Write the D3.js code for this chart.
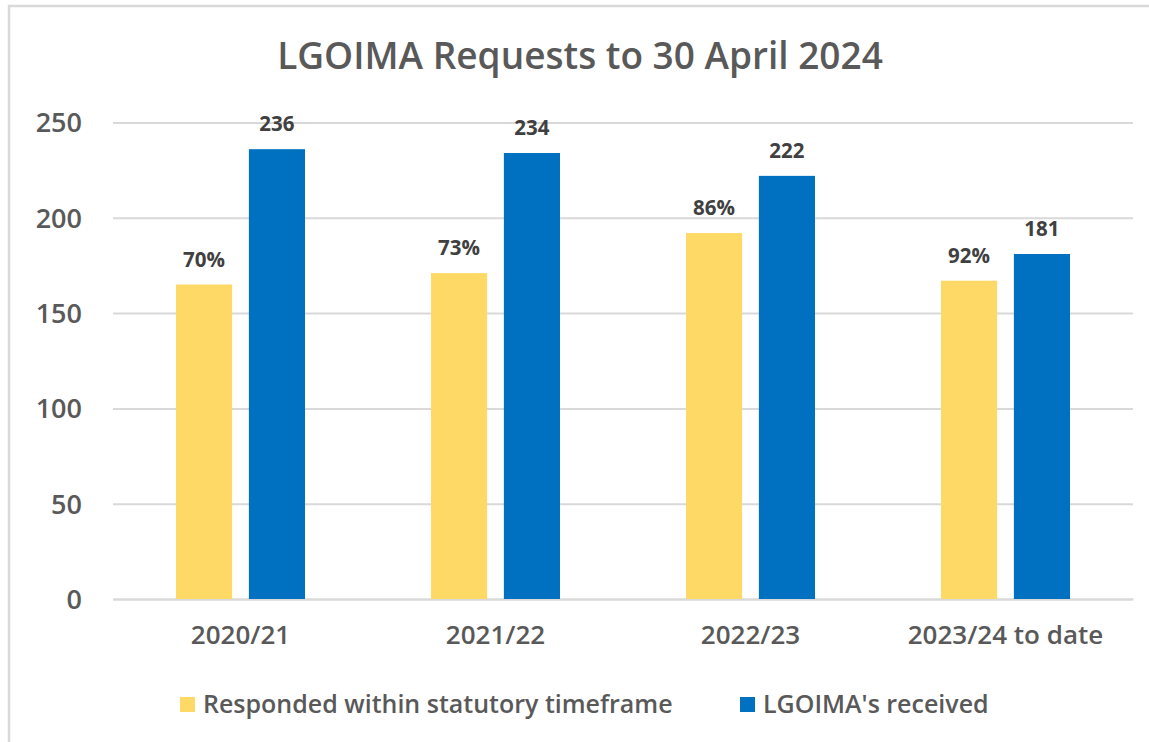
<!DOCTYPE html>
<html><head><meta charset="utf-8">
<script src="https://cdn.jsdelivr.net/npm/d3@7"></script>
<style>body{margin:0;background:#fff;}svg{display:block;font-family:"Open Sans",sans-serif;}</style>
</head><body>
<svg id="c" width="1149" height="742"></svg>
<script>
const categories = ["2020/21", "2021/22", "2022/23", "2023/24 to date"];
const responded = [165, 171, 192, 167];
const respondedLabels = ["70%", "73%", "86%", "92%"];
const received = [236, 234, 222, 181];
const receivedLabels = ["236", "234", "222", "181"];
const seriesNames = ["Responded within statutory timeframe", "LGOIMA's received"];
const yTicks = [0, 50, 100, 150, 200, 250];
const title = "LGOIMA Requests to 30 April 2024";

const svg = d3.select("#c");
const colors = ["#FFD966", "#0070C0"];

// chart border
svg.append("path").attr("d", "M9,760 L9,6 L1160,6").attr("fill", "none").attr("stroke", "#d9d9d9").attr("stroke-width", 2.5);

const m = {l: 113, r: 1133, t: 122.5, b: 599};
const x = d3.scaleBand().domain(categories).range([m.l, m.r]);
const y = d3.scaleLinear().domain([0, 250]).range([m.b, m.t]);
const x1 = d3.scaleBand().domain([0, 1]).range([0, 129]).paddingInner(0.23);

svg.append("text").attr("x", 580).attr("y", 69).attr("text-anchor", "middle")
  .attr("font-size", 37).attr("font-weight", 600).attr("fill", "#595959").text(title);

const yAxis = d3.axisLeft(y).tickValues(yTicks).tickSize(-(m.r - m.l)).tickPadding(31);
const gy = svg.append("g").attr("transform", `translate(${m.l},0)`).call(yAxis);
gy.select(".domain").remove();
gy.selectAll(".tick line").attr("stroke", "#d9d9d9").attr("stroke-width", 2);
gy.selectAll(".tick text").attr("font-size", 27).attr("fill", "#595959").attr("font-family", "Open Sans").attr("font-weight", 600).attr("dy", "0.35em");

const xAxis = d3.axisBottom(x).tickSize(0).tickPadding(27);
const gx = svg.append("g").attr("transform", `translate(0,${m.b})`).call(xAxis);
gx.select(".domain").attr("stroke", "#d9d9d9").attr("stroke-width", 2);
gx.selectAll(".tick text").attr("font-size", 26).attr("fill", "#595959").attr("font-family", "Open Sans").attr("font-weight", 600);

const series = [
  {vals: responded, labels: respondedLabels},
  {vals: received, labels: receivedLabels}
];
series.forEach((s, si) => {
  const g = svg.append("g");
  const off = (x.bandwidth() - 129) / 2;
  g.selectAll("rect").data(categories).join("rect")
    .attr("x", (c) => x(c) + off + x1(si))
    .attr("width", x1.bandwidth())
    .attr("y", (c, i) => y(s.vals[i]))
    .attr("height", (c, i) => y(0) - y(s.vals[i]))
    .attr("fill", colors[si]);
  g.selectAll("text").data(categories).join("text")
    .attr("x", (c) => x(c) + off + x1(si) + x1.bandwidth() / 2)
    .attr("y", (c, i) => y(s.vals[i]) - 18)
    .attr("text-anchor", "middle").attr("font-size", 20.5).attr("font-weight", 700)
    .attr("fill", "#404040").text((c, i) => s.labels[i]);
});

// legend
const legX = [180, 740];
seriesNames.forEach((n, i) => {
  svg.append("rect").attr("x", legX[i]).attr("y", 697).attr("width", 15).attr("height", 15).attr("fill", colors[i]);
  svg.append("text").attr("x", legX[i] + 23).attr("y", 713).attr("font-size", 25).attr("font-weight", 600)
    .attr("fill", "#595959").text(n);
});
</script>
</body></html>
